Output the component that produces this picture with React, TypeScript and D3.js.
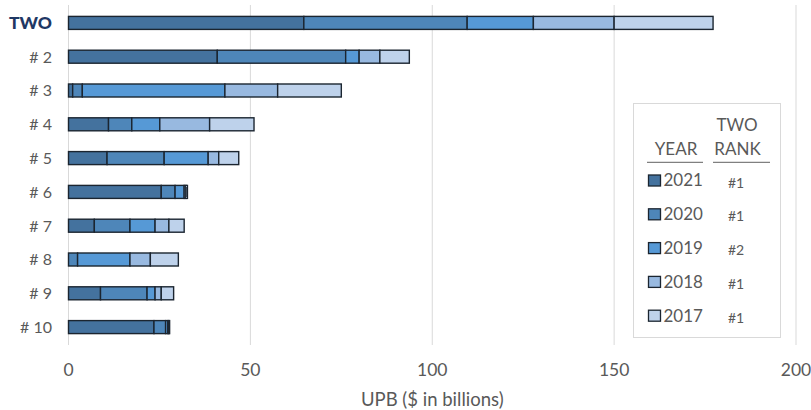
import React from "react";
import * as d3 from "d3";

const categories = ["TWO", "# 2", "# 3", "# 4", "# 5", "# 6", "# 7", "# 8", "# 9", "# 10"];
const years = ["2021", "2020", "2019", "2018", "2017"];
const v2021 = [64.7, 40.9, 1.15, 11.0, 10.6, 25.5, 7.1, 0, 8.8, 23.5];
const v2020 = [44.9, 35.3, 2.65, 6.4, 15.7, 3.8, 9.8, 2.5, 12.8, 3.2];
const v2019 = [18.2, 3.7, 39.2, 7.7, 12.1, 2.5, 6.9, 14.4, 2.2, 0.6];
const v2018 = [22.2, 5.7, 14.5, 13.7, 2.9, 0.5, 3.8, 5.6, 1.7, 0.3];
const v2017 = [27.2, 8.1, 17.5, 12.2, 5.5, 0.4, 4.2, 7.7, 3.4, 0.2];
const ranks = ["#1", "#1", "#2", "#1", "#1"];
const xTicks = [0, 50, 100, 150, 200];
const colors = ["#44729e", "#4e86b9", "#5699d6", "#98b9e0", "#bed2eb"];

const W = 811;
const H = 410;
const FONT = "Lato, 'Open Sans', sans-serif";

export default function App() {
  const series = [v2021, v2020, v2019, v2018, v2017];
  const rows = categories.map((c, i) => {
    const r: any = { cat: c };
    years.forEach((y, k) => (r[y] = series[k][i]));
    return r;
  });
  const stacked = d3.stack<any>().keys(years)(rows);

  const x = d3.scaleLinear().domain([0, 200]).range([68.5, 796]);
  const y = d3.scaleBand().domain(categories).range([6, 344]).paddingInner(0.6).paddingOuter(0.3);
  const bh = 13;

  return (
    <svg width={W} height={H} style={{ position: "absolute", left: 0, top: 0, background: "#fff" }}>
      {xTicks.map((t) => (
        <g key={t}>
          <line x1={x(t)} x2={x(t)} y1={5} y2={345} stroke="#d9d9d9" strokeWidth={1} />
          <text x={x(t)} y={375.5} textAnchor="middle" fontFamily={FONT} fontSize={17.5} fill="#595959">
            {t}
          </text>
        </g>
      ))}
      <text x={x(100)} y={406} textAnchor="middle" fontFamily={FONT} fontSize={18.5} fill="#595959">
        UPB ($ in billions)
      </text>
      {stacked.map((s, k) => (
        <g key={s.key}>
          {s.map((d, i) => {
            const cy = (y(categories[i]) as number) + y.bandwidth() / 2;
            const w = x(d[1]) - x(d[0]);
            if (w <= 0) return null;
            return (
              <rect
                key={i}
                x={x(d[0])}
                y={cy - bh / 2}
                width={w}
                height={bh}
                fill={colors[k]}
                stroke="#1b2530"
                strokeWidth={1.4}
              />
            );
          })}
        </g>
      ))}
      {categories.map((c, i) => {
        const cy = (y(c) as number) + y.bandwidth() / 2;
        const isTwo = i === 0;
        return (
          <text
            key={c}
            x={52}
            y={cy + (isTwo ? 6.3 : 5.8)}
            textAnchor="end"
            fontFamily={FONT}
            fontSize={isTwo ? 17.5 : 16}
            fontWeight={isTwo ? 900 : 400}
            fill={isTwo ? "#1f3864" : "#595959"}
          >
            {c}
          </text>
        );
      })}
      <rect x={633.5} y={103.5} width={147} height={234} fill="#fff" stroke="#d9d9d9" strokeWidth={1} />
      <text x={737} y={131} textAnchor="middle" fontFamily={FONT} fontSize={17} fill="#595959">
        TWO
      </text>
      <text x={676} y={155} textAnchor="middle" fontFamily={FONT} fontSize={17} fill="#595959">
        YEAR
      </text>
      <text x={737.5} y={155} textAnchor="middle" fontFamily={FONT} fontSize={17} fill="#595959">
        RANK
      </text>
      <line x1={647} x2={703} y1={162.3} y2={162.3} stroke="#808080" strokeWidth={1.3} />
      <line x1={713} x2={770} y1={162.3} y2={162.3} stroke="#808080" strokeWidth={1.3} />
      {years.map((yr, k) => {
        const cy = 180.5 + k * 33.8;
        return (
          <g key={yr}>
            <rect x={648.5} y={cy - 5.5} width={12} height={11} fill={colors[k]} stroke="#1b2530" strokeWidth={1.3} />
            <text x={663.5} y={cy + 5.8} fontFamily={FONT} fontSize={17} fill="#595959">
              {yr}
            </text>
            <text x={736} y={cy + 7} textAnchor="middle" fontFamily={FONT} fontSize={14} fill="#595959">
              {ranks[k]}
            </text>
          </g>
        );
      })}
    </svg>
  );
}
